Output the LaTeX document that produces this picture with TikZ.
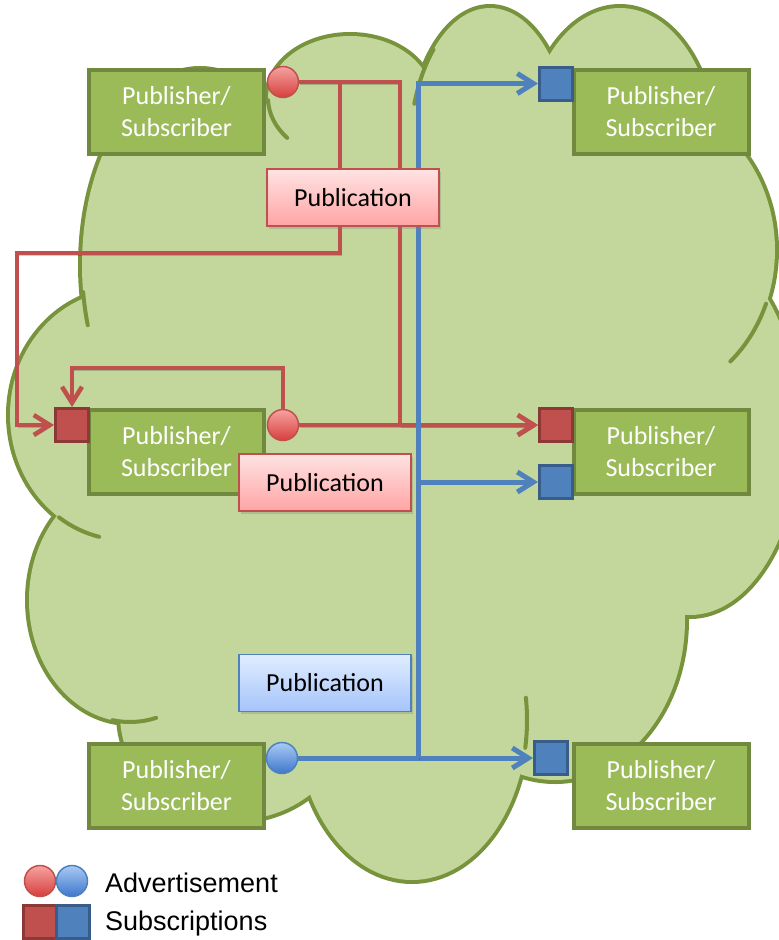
\documentclass[tikz,border=0pt]{standalone}
\usepackage{fontspec}
\setmainfont{Carlito}
\newfontfamily\legendfont{Liberation Sans}
\usetikzlibrary{arrows.meta,shadows}
\definecolor{cloudfill}{HTML}{C3D69B}
\definecolor{cloudline}{HTML}{77933C}
\definecolor{psfill}{HTML}{9BBB59}
\definecolor{psline}{HTML}{71893F}
\definecolor{advred}{HTML}{C0504D}
\definecolor{advredlight}{HTML}{F5A3A1}
\definecolor{advreddark}{HTML}{D63F3C}
\definecolor{subredline}{HTML}{8C3836}
\definecolor{advblue}{HTML}{4F81BD}
\definecolor{advbluelight}{HTML}{A9CBF4}
\definecolor{advbluedark}{HTML}{3F76CC}
\definecolor{subblueline}{HTML}{385D8A}
\definecolor{pubpinktop}{HTML}{FFE3E3}
\definecolor{pubpinkbot}{HTML}{FFA4A4}
\definecolor{pubbluetop}{HTML}{E0EDFF}
\definecolor{pubbluebot}{HTML}{A5C4FA}
\pgfdeclarelayer{background}
\pgfdeclarelayer{wires}
\pgfsetlayers{background,wires,main}
\newcommand\cloudlobes{200/265/118/195, 350/98/82/62, 490/150/80/142, 620/150/95/142, 640/250/135/150,
    690/430/110/185, 555/620/130/160, 412/720/115/160, 235/715/115/105, 130/600/101/122, 125/415/115/125}
\begin{document}
\begin{tikzpicture}[x=1pt,y=-1pt,
  psbox/.style={draw=psline, fill=psfill, line width=4pt, minimum width=175pt, minimum height=84pt,
    inner sep=0pt, text=white, align=center, font=\fontsize{26}{32}\selectfont},
  pubbox/.style={line width=1.75pt, minimum width=172pt, minimum height=57pt, inner sep=0pt,
    font=\fontsize{26}{32}\selectfont, drop shadow={opacity=0.3,shadow xshift=1.5pt,shadow yshift=-2.5pt}},
  pubred/.style={pubbox, draw=advred, top color=pubpinktop, bottom color=pubpinkbot},
  pubblue/.style={pubbox, draw=advblue, top color=pubbluetop, bottom color=pubbluebot},
  advdot/.style={circle, minimum size=31pt, inner sep=0pt, line width=1.5pt},
  redadv/.style={advdot, draw=advred, top color=advredlight, bottom color=advreddark},
  blueadv/.style={advdot, draw=advblue, top color=advbluelight, bottom color=advbluedark},
  subsq/.style={rectangle, minimum size=33pt, inner sep=0pt, line width=3pt},
  redsub/.style={subsq, draw=subredline, fill=advred},
  bluesub/.style={subsq, draw=subblueline, fill=advblue},
  wireshadow/.style={preaction={draw=black, opacity=0.18, transform canvas={xshift=1pt,yshift=-2pt}}},
  redwire/.style={wireshadow, draw=advred, line width=4.5pt},
  bluewire/.style={wireshadow, draw=advblue, line width=5pt},
  tip/.style={-{Straight Barb[length=16pt,width=20pt]}},
  legendtext/.style={anchor=west, inner sep=0pt, font=\legendfont\fontsize{27}{32}\selectfont}]
\useasboundingbox (0,0) rectangle (779,940);

\begin{pgfonlayer}{background}
\foreach \cx/\cy/\rx/\ry in \cloudlobes
  \draw[cloudline, line width=8pt] (\cx,\cy) ellipse [x radius=\rx, y radius=\ry];
\foreach \cx/\cy/\rx/\ry in \cloudlobes
  \fill[cloudfill] (\cx,\cy) ellipse [x radius=\rx, y radius=\ry];
\fill[cloudfill] (200,265) -- (285,140) -- (350,98) -- (490,150) -- (620,150) -- (640,250) -- (690,430)
  -- (555,620) -- (412,720) -- (235,715) -- (130,600) -- (125,415) -- cycle;
\foreach \cx/\cy/\rx/\ry/\ta/\tb in {200/265/118/195/172/162, 350/98/82/62/178/140, 490/150/80/142/225/199,
    640/250/135/150/21/48, 125/415/115/125/125/103, 130/600/101/122/100/75, 412/720/115/160/10/-8}
  \draw[cloudline, line width=4pt, line cap=round] ([shift={(\cx,\cy)}]\ta:\rx\space and \ry)
    arc [start angle=\ta, end angle=\tb, x radius=\rx, y radius=\ry];
\end{pgfonlayer}

\node[psbox] (psTL) at (176.5,112) {Publisher/\\Subscriber};
\node[psbox] (psML) at (176.5,452) {Publisher/\\Subscriber};
\node[psbox] (psBL) at (176.5,786) {Publisher/\\Subscriber};
\node[psbox] (psTR) at (661,112) {Publisher/\\Subscriber};
\node[psbox] (psMR) at (661,452) {Publisher/\\Subscriber};
\node[psbox] (psBR) at (661,786) {Publisher/\\Subscriber};

\node[pubred] (pubA) at (353,197.5) {Publication};
\node[pubred] (pubB) at (325,482.5) {Publication};
\node[pubblue] (pubC) at (325,683) {Publication};

\node[redadv] (advA) at (283,82) {};
\node[redadv] (advB) at (283,425) {};
\node[blueadv] (advC) at (282,758) {};

\node[redsub] (subL) at (72,425) {};
\node[redsub] (subMR) at (556,425) {};
\node[bluesub] (subTR) at (556,83.5) {};
\node[bluesub] (subMB) at (556,482) {};
\node[bluesub] (subBR) at (551,758) {};

\coordinate (busR) at (400,425);
\coordinate (busL) at (340,253);
\coordinate (loopL) at (17,253);
\coordinate (hookL) at (72,368);
\coordinate (busB) at (418,758);

\begin{pgfonlayer}{wires}
\draw[redwire, tip] (advA) -| (busR) -- (subMR);
\draw[redwire, tip] (advB) -- (subMR);
\draw[redwire, tip] (advA -| busL) -- (busL) -- (loopL) |- (subL);
\draw[redwire, tip] (advB) |- (hookL) -- (subL);
\draw[bluewire, tip] (advC) -- (subBR);
\draw[bluewire, tip] (busB) |- (subTR);
\draw[bluewire, tip] (busB |- subMB) -- (subMB);
\end{pgfonlayer}

\node[redadv] (legAdvR) at (40,881) {};
\node[blueadv] (legAdvB) at (72,881) {};
\node[redsub] (legSubR) at (40,922) {};
\node[bluesub] (legSubB) at (73,922) {};
\node[legendtext] (legAdv) at (105,883) {Advertisement};
\node[legendtext] (legSub) at (105,924) {Subscriptions};
\end{tikzpicture}
\end{document}
